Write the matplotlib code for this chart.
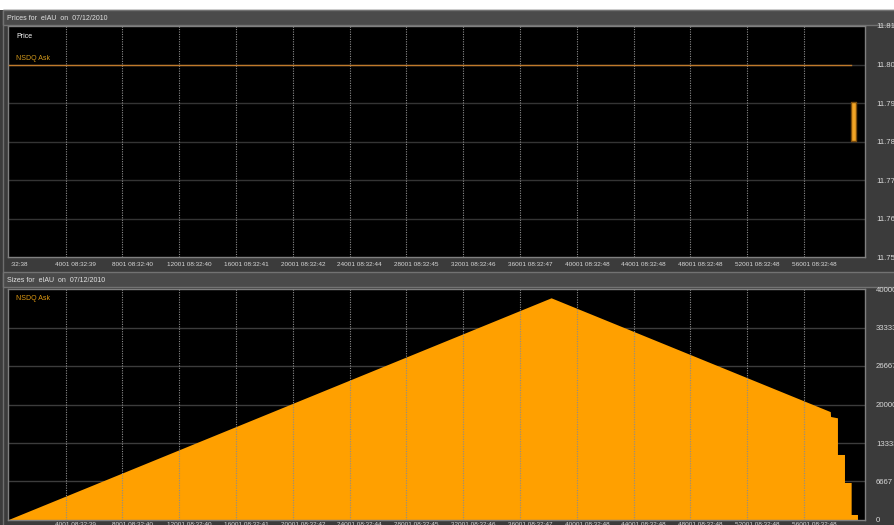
import matplotlib
matplotlib.use("Agg")
import matplotlib.pyplot as plt
from matplotlib.patches import Rectangle
from matplotlib.transforms import ScaledTranslation, blended_transform_factory

plt.rcParams['font.family'] = ['Liberation Sans', 'DejaVu Sans']

# ---------------- data ----------------
tick_seq = [4001, 8001, 12001, 16001, 20001, 24001, 28001, 32001, 36001,
            40001, 44001, 48001, 52001, 56001]
tick_time = ["08:32:39", "08:32:40", "08:32:40", "08:32:41", "08:32:42",
             "08:32:44", "08:32:45", "08:32:46", "08:32:47", "08:32:48",
             "08:32:48", "08:32:48", "08:32:48", "08:32:48"]
first_label = ":32:38"

price_ticks = [11.75, 11.76, 11.77, 11.78, 11.79, 11.80, 11.81]
price_labels = ["11.75", "11.76", "11.77", "11.78", "11.79", "11.80", "11.81"]

ask_x = [1, 59300]
ask_price = [11.80, 11.80]
burst_x = [59300, 59640]
burst_hi = [11.7903, 11.7903]
burst_lo = [11.7802, 11.7802]

size_ticks = [0, 6667, 13333, 20000, 26667, 33333, 40000]
size_labels = ["0", "6667", "13333", "20000", "26667", "33333", "40000"]

size_x = [1, 38220, 57880, 57900, 58385, 58385, 58880, 58880, 59350, 59350,
          59795, 59795, 60290]
size_val = [1, 38390, 18680, 17840, 17610, 11260, 11260, 6410, 6410, 870,
            870, 0, 0]

x_range = (-60, 60290)

# ---------------- figure ----------------
W, H = 894, 525
fig = plt.figure(figsize=(W / 100, H / 100), dpi=100, facecolor='#3b3b3b')


def fx(px):
    return px / W


def fy(py):
    return 1 - py / H


def frect(x0, y0, x1, y1, **kw):
    r = Rectangle((fx(x0), fy(y1)), (x1 - x0) / W, (y1 - y0) / H,
                  transform=fig.transFigure, **kw)
    fig.patches.append(r)
    return r


# white strip on top
frect(0, 0, W, 10, facecolor='white', edgecolor='none', zorder=-2)
# outer frame
frect(3, 10, W + 5, H + 5, facecolor='#3b3b3b', edgecolor='#6e6e6e', lw=1, zorder=-1)
# header bars
frect(3, 10, W + 5, 25, facecolor='#4a4a4a', edgecolor='#727272', lw=1, zorder=-1)
frect(3, 272, W + 5, 287, facecolor='#4a4a4a', edgecolor='#727272', lw=1, zorder=-1)

fig.text(fx(7), fy(18), "Prices for  eIAU  on  07/12/2010", fontsize=5,
         color='#e2e2e2', va='center', ha='left')
fig.text(fx(7), fy(280), "Sizes for  eIAU  on  07/12/2010", fontsize=5,
         color='#e2e2e2', va='center', ha='left')

orange = '#ffa000'
grid_v = '#8c8c8c'
grid_h = '#343434'
label_col = '#d8d8d8'

ax1 = fig.add_axes([fx(8), fy(257), (865 - 8) / W, (257 - 26) / H])
ax2 = fig.add_axes([fx(8), fy(520), (865 - 8) / W, (520 - 289) / H])

offset = ScaledTranslation(10 / 100, 0, fig.dpi_scale_trans)

for ax, label_y in ((ax1, 265), (ax2, 525)):
    ax.set_facecolor('black')
    for s in ax.spines.values():
        s.set_color('#808080')
        s.set_linewidth(1)
    ax.set_xlim(*x_range)
    ax.yaxis.tick_right()
    ax.tick_params(axis='y', length=0, pad=8, labelsize=5.6, labelcolor=label_col)
    ax.set_xticks([])
    trans = blended_transform_factory(ax.transData, fig.transFigure) + offset
    for s, t in zip(tick_seq, tick_time):
        ax.text(s, fy(label_y), f"{s} {t}", transform=trans, fontsize=4.6,
                color=label_col, ha='center', va='center', clip_on=False)
    for t in tick_seq:
        ax.axvline(t, color=grid_v, lw=0.8, ls=(0, (1, 1.2)), zorder=3)

# ---- top: prices ----
ax1.set_ylim(price_ticks[0], price_ticks[-1])
ax1.set_yticks(price_ticks)
ax1.set_yticklabels(price_labels)
for v in price_ticks[1:-1]:
    ax1.axhline(v, color=grid_h, lw=1.0, zorder=1)
ax1.plot(ask_x, ask_price, color='#c07a2a', lw=1.0, zorder=4)
ax1.fill_between(burst_x, burst_lo, burst_hi, facecolor='#f2a424',
                 edgecolor='#7a4c0c', lw=1.0, zorder=4)
ax1.text(fx(16), fy(37), "Price", transform=fig.transFigure, fontsize=5,
         color='white', va='center')
ax1.text(fx(16), fy(59), "NSDQ Ask", transform=fig.transFigure, fontsize=5,
         color='#d49a1c', va='center')
fig.text(fx(10), fy(265), first_label, fontsize=4.6, color=label_col,
         va='center', ha='left')

# ---- bottom: sizes ----
ax2.set_ylim(size_ticks[0], size_ticks[-1])
ax2.set_yticks(size_ticks)
ax2.set_yticklabels(size_labels)
for v in size_ticks[1:-1]:
    ax2.axhline(v, color='#3c3c3c', lw=1.0, zorder=1)
ax2.fill_between(size_x, 0, size_val, facecolor=orange, edgecolor='none',
                 lw=0, zorder=2)
ax2.text(fx(16), fy(299), "NSDQ Ask", transform=fig.transFigure, fontsize=5,
         color='#e09a12', va='center')

fig.savefig("out.png", dpi=100, facecolor=fig.get_facecolor())
